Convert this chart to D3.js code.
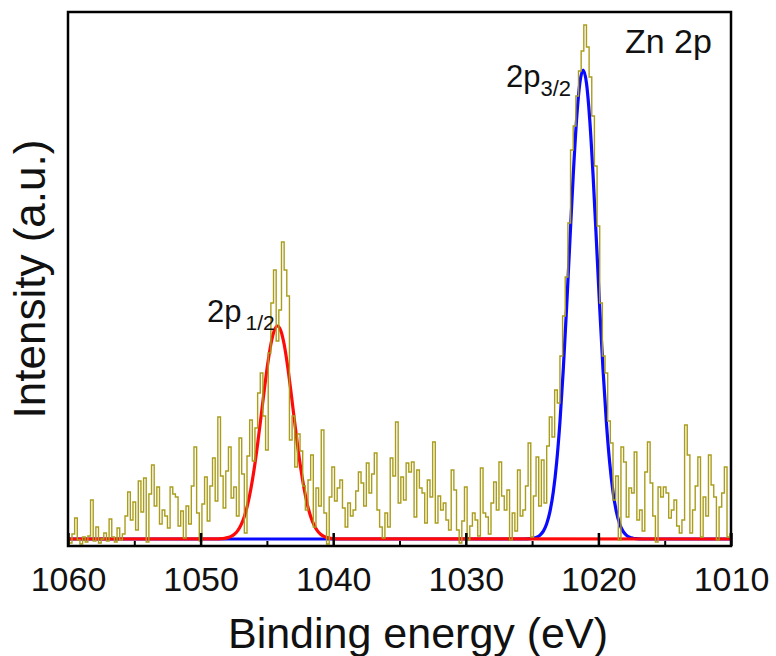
<!DOCTYPE html>
<html>
<head>
<meta charset="utf-8">
<script src="https://cdn.jsdelivr.net/npm/d3@7"></script>
<style>
  body { margin: 0; background: #fff; }
  svg { display: block; font-family: "Liberation Sans", Arial, sans-serif; }
</style>
</head>
<body>
<svg id="chart" width="776" height="656"></svg>
<script>
// measured spectrum, 0.2 eV steps from 1060 down to 1010 eV (a.u.)
const spectrum = [
  8, 3, 12, 28, 6, 2, 9, 4, 10, 46, 5, 19, 3, 7, 13, 5, 27, 9, 4, 18, 6, 12, 30, 54, 26,
  44, 16, 65, 34, 68, 4, 52, 81, 40, 59, 22, 36, 30, 18, 59, 52, 49, 20,
  35, 8, 40, 22, 60, 99, 33, 5, 42, 69, 25, 60, 88, 45, 129, 70, 38, 75, 99, 48, 59, 30,
  108, 72, 13, 90, 126, 85, 118, 153, 173, 130, 96, 193, 243, 276, 205, 236, 304, 276, 250, 106,
  130, 79, 112, 95, 60, 36, 66, 91, 19, 58, 40, 116, 33, 2, 49, 79, 45, 58, 66, 38, 19, 43,
  30, 36, 55, 74, 63, 40, 83, 53, 72, 93, 36, 19, 8, 33, 19, 88, 70, 124, 43, 69, 46,
  83, 74, 84, 29, 76, 58, 53, 23, 66, 49, 104, 23, 50, 36, 43, 26, 16, 76, 56, 16, 3, 25,
  59, 6, 20, 33, 26, 10, 78, 33, 29, 12, 43, 64, 36, 84, 50, 36, 56, 6, 33, 15,
  76, 30, 36, 60, 103, 9, 50, 89, 40, 86, 43, 100, 129, 109, 156, 143, 190, 230, 269, 323,
  396, 420, 450, 475, 495, 521, 499, 469, 430, 380, 320, 243, 190, 173, 125, 103, 46, 70, 6, 99, 84, 29,
  58, 53, 94, 26, 36, 15, 74, 104, 63, 30, 4, 59, 49, 59, 53, 28, 36, 46, 20, 13, 26, 121,
  91, 13, 36, 60, 89, 9, 49, 30, 91, 61, 49, 6, 39, 53, 79, 9, 12
];
const eStart = 1060;
const eEnd = 1010;

// fitted 2p1/2 component
const redEnergy = [1060, 1048.7, 1048.45, 1048.2, 1047.95, 1047.7, 1047.45, 1047.2, 1046.95, 1046.7,
  1046.45, 1046.2, 1045.95, 1045.7, 1045.45, 1045.2, 1044.95, 1044.7, 1044.45, 1044.2, 1043.95,
  1043.7, 1043.45, 1043.2, 1042.95, 1042.7, 1042.45, 1042.2, 1041.95, 1041.7, 1041.45, 1041.2,
  1040.95, 1040.7, 1040.45, 1040.2, 1039.95, 1039.7, 1010];
const redFit = [7, 7.1, 7.3, 7.7, 8.4, 9.6, 11.8, 15.4, 21.1, 29.6, 41.5, 57.7, 77.9, 102, 128.6,
  155.7, 181, 201.7, 215.3, 220, 215.3, 201.7, 181, 155.7, 128.6, 102, 77.9, 57.7, 41.5, 29.6,
  21.1, 15.4, 11.8, 9.6, 8.4, 7.7, 7.3, 7.1, 7];

// fitted 2p3/2 component
const blueEnergy = [1060, 1025.65, 1025.4, 1025.15, 1024.9, 1024.65, 1024.4, 1024.15, 1023.9,
  1023.65, 1023.4, 1023.15, 1022.9, 1022.65, 1022.4, 1022.15, 1021.9, 1021.65, 1021.4, 1021.15,
  1020.9, 1020.65, 1020.4, 1020.15, 1019.9, 1019.65, 1019.4, 1019.15, 1018.9, 1018.65, 1018.4,
  1018.15, 1017.9, 1017.65, 1017.4, 1017.15, 1016.9, 1016.65, 1010];
const blueFit = [7, 7.0, 7.1, 7.3, 7.8, 8.8, 10.9, 14.9, 22.2, 34.6, 54.2, 83.4, 124, 176.1, 237.9,
  305, 370.4, 425.7, 462.9, 476, 462.9, 425.7, 370.4, 305, 237.9, 176.1, 124, 83.4, 54.2, 34.6,
  22.2, 14.9, 10.9, 8.8, 7.8, 7.3, 7.1, 7.0, 7];

const majorTicks = [1060, 1050, 1040, 1030, 1020, 1010];
const minorTicks = [1055, 1045, 1035, 1025, 1015];

const margin = { top: 12, right: 45, bottom: 110, left: 68 };
const width = 776;
const height = 656;

const svg = d3.select('#chart');

const x = d3.scaleLinear()
  .domain([eStart, eEnd])
  .range([margin.left, width - margin.right]);

const y = d3.scaleLinear()
  .domain([0, 534])
  .range([height - margin.bottom, margin.top]);

svg.append('defs').append('clipPath').attr('id', 'plot')
  .append('rect')
  .attr('x', margin.left)
  .attr('y', margin.top)
  .attr('width', width - margin.left - margin.right)
  .attr('height', height - margin.top - margin.bottom);

const plot = svg.append('g').attr('clip-path', 'url(#plot)');

const fitLine = d3.line()
  .x((d) => x(d[0]))
  .y((d) => y(d[1]))
  .curve(d3.curveMonotoneX);

plot.append('path')
  .datum(blueEnergy.map((e, i) => [e, blueFit[i]]))
  .attr('fill', 'none')
  .attr('stroke', '#0a0aff')
  .attr('stroke-width', 3.2)
  .attr('d', fitLine);

plot.append('path')
  .datum(redEnergy.map((e, i) => [e, redFit[i]]))
  .attr('fill', 'none')
  .attr('stroke', '#ff0a0a')
  .attr('stroke-width', 3.2)
  .attr('d', fitLine);

const step = (eStart - eEnd) / (spectrum.length - 1);
const dataLine = d3.line()
  .x((d, i) => x(eStart - i * step))
  .y((d) => y(d))
  .curve(d3.curveStep);

plot.append('path')
  .datum(spectrum)
  .attr('fill', 'none')
  .attr('stroke', '#ab9d1c')
  .attr('stroke-width', 1.4)
  .attr('d', dataLine);

// inward ticks on the bottom edge
const axisY = height - margin.bottom;
const xAxis = svg.append('g')
  .attr('transform', `translate(0,${axisY})`)
  .call(d3.axisBottom(x).tickValues(majorTicks).tickSize(-13).tickPadding(21).tickFormat(d3.format('d')))
  .call((g) => g.select('.domain').remove());
xAxis.selectAll('.tick line').attr('stroke', '#000').attr('stroke-width', 2.5);
xAxis.selectAll('.tick text')
  .attr('font-size', 34)
  .attr('fill', '#111')
  .attr('font-family', '"Liberation Sans", Arial, sans-serif');

svg.append('g')
  .attr('transform', `translate(0,${axisY})`)
  .call(d3.axisBottom(x).tickValues(minorTicks).tickSize(-5).tickFormat(''))
  .call((g) => g.select('.domain').remove())
  .call((g) => g.selectAll('.tick line').attr('stroke', '#000').attr('stroke-width', 2));

svg.append('rect')
  .attr('x', margin.left)
  .attr('y', margin.top)
  .attr('width', width - margin.left - margin.right)
  .attr('height', height - margin.top - margin.bottom)
  .attr('fill', 'none')
  .attr('stroke', '#000')
  .attr('stroke-width', 2.5);

svg.append('text')
  .attr('x', 418)
  .attr('y', 648)
  .attr('text-anchor', 'middle')
  .attr('font-size', 43)
  .attr('fill', '#111')
  .text('Binding energy (eV)');

svg.append('text')
  .attr('transform', `translate(45,${(margin.top + axisY) / 2}) rotate(-90)`)
  .attr('text-anchor', 'middle')
  .attr('font-size', 44)
  .attr('fill', '#111')
  .text('Intensity (a.u.)');

svg.append('text')
  .attr('x', 625)
  .attr('y', 53)
  .attr('font-size', 34)
  .attr('fill', '#111')
  .text('Zn 2p');

const lab32 = svg.append('text')
  .attr('x', 506)
  .attr('y', 87)
  .attr('font-size', 31)
  .attr('fill', '#111');
lab32.append('tspan').text('2p');
lab32.append('tspan').attr('dy', 9).attr('font-size', 22).text('3/2');

const lab12 = svg.append('text')
  .attr('x', 207)
  .attr('y', 322)
  .attr('font-size', 31)
  .attr('fill', '#111');
lab12.append('tspan').text('2p');
lab12.append('tspan').attr('dx', 4).attr('dy', 8).attr('font-size', 21).text('1/2');
</script>
</body>
</html>
